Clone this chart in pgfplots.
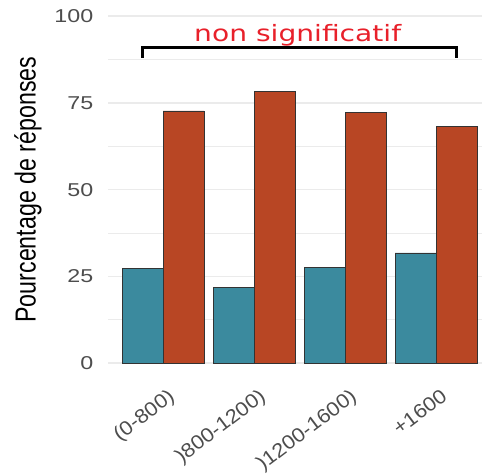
\documentclass[border=0pt]{standalone}
\usepackage{fontspec}
\usepackage{pgfplots}
\pgfplotsset{compat=1.18}
\setmainfont{Liberation Sans}
\newfontfamily\tickfont[FakeStretch=1.25]{Liberation Sans}
\newfontfamily\xtickfont[FakeStretch=1.1]{Liberation Sans}
\newfontfamily\labelfont[FakeStretch=0.8]{Liberation Sans}
\newfontfamily\notefont[FakeStretch=1.25]{DejaVu Sans}
\definecolor{barblue}{HTML}{3B8A9E}
\definecolor{barred}{HTML}{B84624}
\definecolor{gridgray}{HTML}{EBEBEB}
\definecolor{ticktext}{HTML}{4D4D4D}
\definecolor{notered}{HTML}{E8202A}
\begin{document}
\begin{tikzpicture}
\useasboundingbox (-108.4pt,-112.7pt) rectangle (373.6pt,363.3pt);
\begin{axis}[
  scale only axis,
  width=373.6pt, height=347.3pt,
  xmin=-0.6, xmax=3.505,
  ymin=0, ymax=100,
  clip=false,
  /pgf/number format/assume math mode=true,
  axis line style={draw=none},
  tick style={draw=none},
  ytick={0,25,50,75,100},
  minor ytick={12.5,37.5,62.5,87.5},
  ymajorgrids, yminorgrids,
  major grid style={gridgray, line width=1.6pt},
  minor grid style={gridgray, line width=0.9pt},
  xtick={0,1,2,3},
  xticklabels={(0-800), )800-1200), )1200-1600), +1600},
  yticklabel style={font=\tickfont\fontsize{18.6}{18.6}\selectfont, text=ticktext, inner sep=0pt, xshift=-15pt},
  xticklabel style={font=\xtickfont\fontsize{19.8}{19.8}\selectfont, text=ticktext, inner sep=0pt, anchor=north east, xshift=4pt, yshift=-20pt, rotate=37},
  ylabel={Pourcentage de réponses},
  ylabel style={at={(axis description cs:-0.215,0.5)}, anchor=center, font=\labelfont\fontsize{29}{29}\selectfont, inner sep=0pt},
  ybar, bar width=0.45,
]
\addplot[fill=barblue, draw=black!80, line width=0.6pt, bar shift=-0.225]
  coordinates {(0,27.3) (1,21.8) (2,27.7) (3,31.8)};
\addplot[fill=barred, draw=black!80, line width=0.6pt, bar shift=0.225]
  coordinates {(0,72.7) (1,78.2) (2,72.3) (3,68.2)};
% bracket with the test result above it
\draw[black, line width=3pt] (axis cs:-0.23,88) -- (axis cs:-0.23,91) -- (axis cs:3.227,91) -- (axis cs:3.227,88);
\node[anchor=base, text=notered, font=\notefont\fontsize{22.5}{22.5}\selectfont, inner sep=0pt] at (axis cs:1.48,92.7) {non significatif};
\end{axis}
\end{tikzpicture}
\end{document}
